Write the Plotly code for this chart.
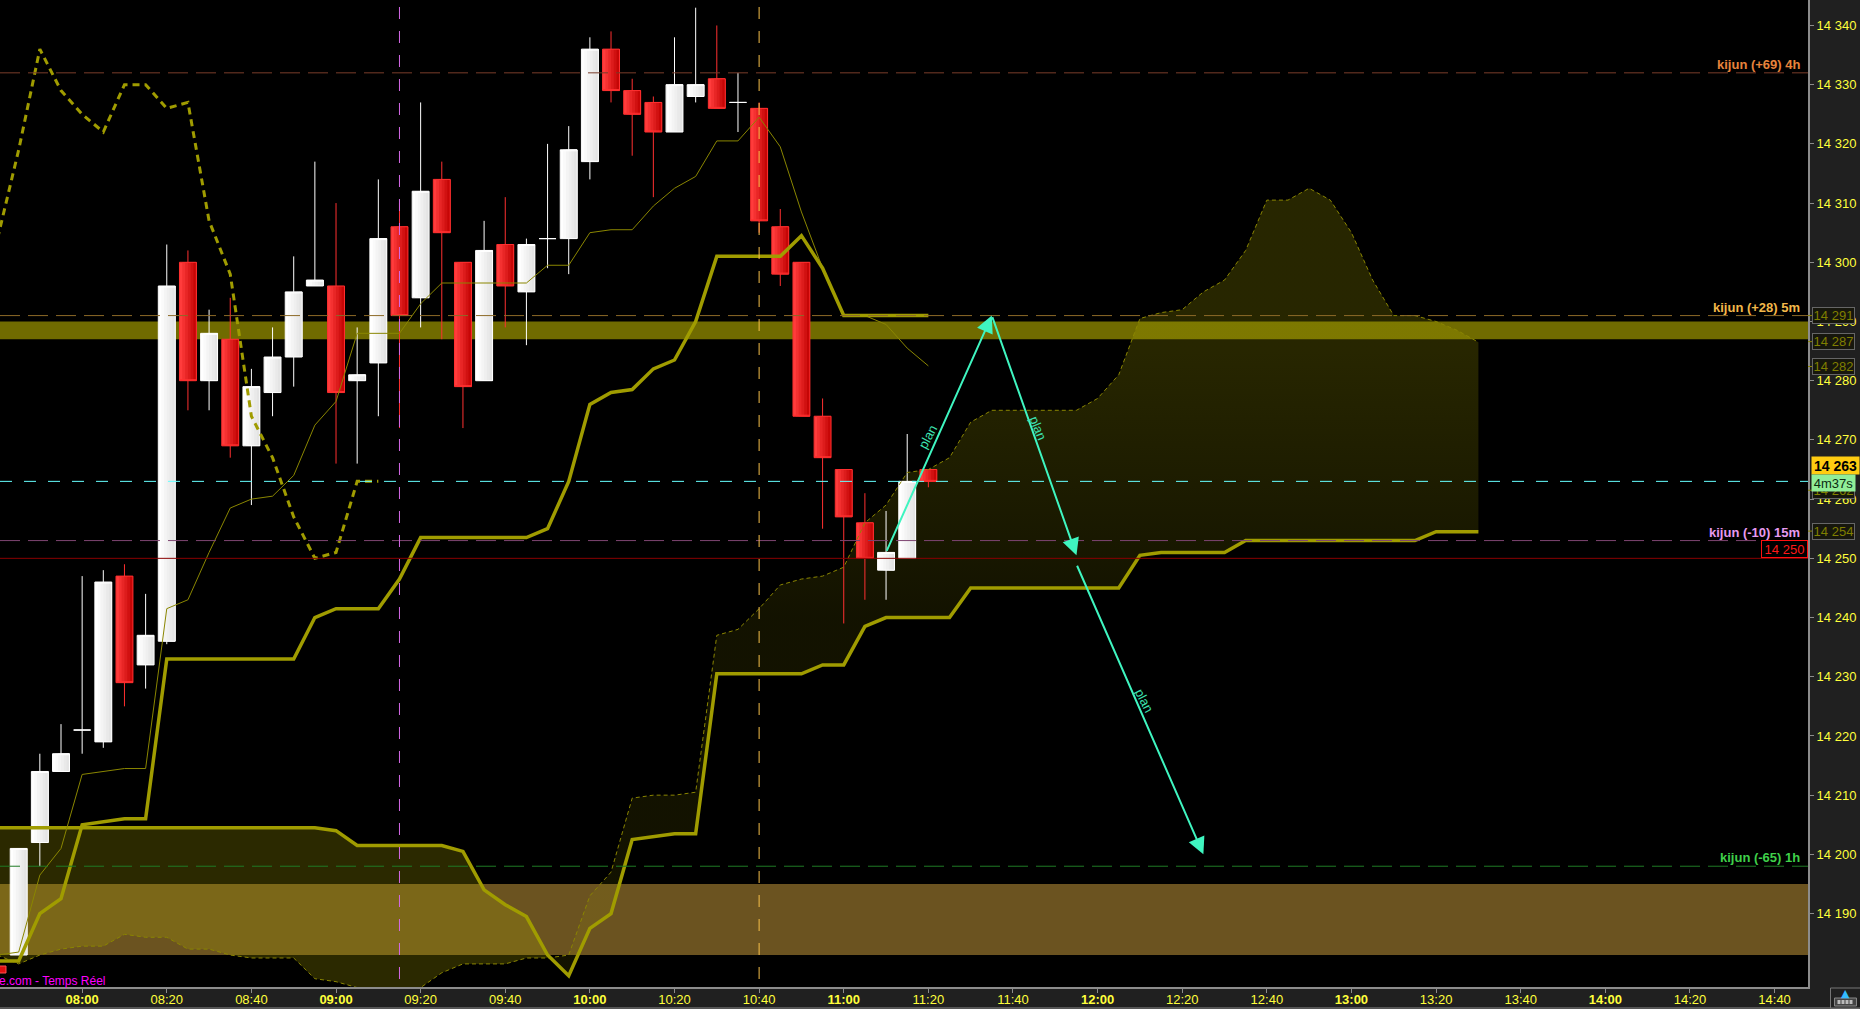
#Ichimoku candlestick chart with kijun levels and trade plan arrows
import pandas as pd
import plotly.graph_objects as go

# Configuration
OUTPUT_FILE = "out.html"
DAY = "2024-01-08"
WIDTH, HEIGHT = 1860, 1009
PLOT_W, PLOT_H = 1808.5, 987
FONT = "Liberation Sans"

# Candles
CANDLE_TIMES = ["07:45", "07:50", "07:55", "08:00", "08:05", "08:10", "08:15", "08:20", "08:25", "08:30", "08:35",
                "08:40", "08:45", "08:50", "08:55", "09:00", "09:05", "09:10", "09:15", "09:20", "09:25", "09:30",
                "09:35", "09:40", "09:45", "09:50", "09:55", "10:00", "10:05", "10:10", "10:15", "10:20", "10:25",
                "10:30", "10:35", "10:40", "10:45", "10:50", "10:55", "11:00", "11:05", "11:10", "11:15", "11:20"]
OPEN = [14183, 14202, 14214, 14221, 14219, 14247, 14232, 14236, 14300, 14280, 14287,
        14269, 14278, 14284, 14296, 14296, 14280, 14283, 14306, 14294, 14314, 14300,
        14280, 14303, 14295, 14304, 14304, 14317, 14336, 14329, 14327, 14322, 14328,
        14331, 14327, 14326, 14306, 14300, 14274, 14265, 14256, 14248, 14250, 14265]
HIGH = [14201, 14217, 14222, 14247, 14248, 14249, 14244, 14303, 14302, 14292, 14294,
        14282, 14289, 14301, 14317, 14310, 14289, 14314, 14310, 14327, 14317, 14300,
        14307, 14311, 14304, 14320, 14323, 14338, 14339, 14331, 14328, 14338, 14343,
        14340, 14332, 14327, 14309, 14300, 14277, 14265, 14261, 14258, 14271, 14265]
LOW = [14183, 14198, 14214, 14217, 14218, 14225, 14228, 14235.5, 14275, 14275, 14267,
       14259, 14274, 14279, 14296, 14266, 14266, 14274, 14272, 14289, 14287, 14272,
       14280, 14289, 14286, 14299, 14298, 14314, 14327, 14318, 14311, 14322, 14327,
       14326, 14322, 14305, 14296, 14274, 14255, 14239, 14243, 14243, 14250, 14262]
CLOSE = [14201, 14214, 14217, 14221, 14246, 14229, 14237, 14296, 14280, 14288, 14269,
         14279, 14284, 14295, 14297, 14278, 14281, 14304, 14291, 14312, 14305, 14279,
         14302, 14296, 14303, 14304, 14319, 14336, 14329, 14325, 14322, 14330, 14330,
         14326, 14327, 14307, 14298, 14274, 14267, 14257, 14250, 14251, 14263, 14263]

# Ichimoku lines, one value every 5 minutes from 07:40
KIJUN = [14182, 14182, 14190, 14192.5, 14205, 14205.5, 14206, 14206, 14233, 14233, 14233, 14233, 14233, 14233, 14233,
         14240, 14241.5, 14241.5, 14241.5, 14246.5, 14253.5, 14253.5, 14253.5, 14253.5, 14253.5, 14253.5, 14255, 14263,
         14276, 14278, 14278.5, 14282, 14283.5, 14290, 14301, 14301, 14301, 14301, 14304.5, 14299, 14291, 14291, 14291,
         14291, 14291]
TENKAN = [14183, 14183.5, 14196.5, 14201, 14213.5, 14214, 14214.5, 14214.5, 14241.5, 14243, 14251, 14258.5, 14260,
          14260.5, 14264, 14272.5, 14276.5, 14288, 14288, 14288, 14293, 14296.5, 14296.5, 14296.5, 14296.5, 14296.5,
          14299.5, 14299.5, 14305, 14305.5, 14305.5, 14309.5, 14312.5, 14314.5, 14320.5, 14320.5, 14324.5, 14319.5,
          14308.5, 14299, 14291, 14291, 14289.5, 14285.5, 14282.5]
CHIKOU = [14304, 14319, 14336, 14329, 14325, 14322, 14330, 14330, 14326, 14327, 14307, 14298, 14274, 14267, 14257,
          14250, 14251, 14263, 14263]
SSA = [14183, 14181.5, 14183, 14184, 14184.5, 14184.5, 14186.5, 14186, 14186, 14184, 14184, 14183, 14182.5, 14182.5,
       14182.5, 14179, 14178.5, 14177.5, 14176.5, 14176.5, 14177.5, 14180, 14181.5, 14181.5, 14181.5, 14182.5, 14182.5,
       14183, 14193, 14197, 14209.5, 14210, 14210, 14210.5, 14237, 14238, 14241.5, 14245.5, 14246.5, 14247, 14248.5,
       14256, 14259, 14264.5, 14265, 14267, 14273, 14275, 14275, 14275, 14275, 14275, 14277, 14281, 14290.5, 14291.5,
       14292, 14295, 14297, 14302, 14310.5, 14310.5, 14312.5, 14310.5, 14305, 14297, 14291, 14291, 14290, 14288.5,
       14286.5]
SSB = [14204.5, 14204.5, 14204.5, 14204.5, 14204.5, 14204.5, 14204.5, 14204.5, 14204.5, 14204.5, 14204.5, 14204.5,
       14204.5, 14204.5, 14204.5, 14204.5, 14204, 14201.5, 14201.5, 14201.5, 14201.5, 14201.5, 14200.5, 14194, 14191.5,
       14189.5, 14183, 14179.5, 14187.5, 14190, 14202.5, 14203, 14203.5, 14203.5, 14230.5, 14230.5, 14230.5, 14230.5,
       14230.5, 14232, 14232, 14238.5, 14240, 14240, 14240, 14240, 14245, 14245, 14245, 14245, 14245, 14245, 14245,
       14245, 14250.5, 14251, 14251, 14251, 14251, 14253, 14253, 14253, 14253, 14253, 14253, 14253, 14253, 14253,
       14254.5, 14254.5, 14254.5]
CLOUD_SPLIT = 26  # 09:50, where the two spans cross

# Levels
LEVEL_LABELS = ["kijun (+69) 4h", "kijun (+28) 5m", "kijun (-10) 15m", "kijun (-65) 1h"]
LEVEL_VALUES = [14332, 14291, 14253, 14198]
LEVEL_LINE_COLORS = ["#7a3d2a", "#8c6a28", "#7d4570", "#1f7a24"]
LEVEL_TEXT_COLORS = ["#e8843c", "#f2b84a", "#e79af0", "#3fd04a"]
BAND_RANGES = [(14287, 14290), (14183, 14195)]
BAND_COLORS = ["#706b00", "#6b5320"]
LAST_PRICE = 14263
STOP_LEVEL = 14250
VLINE_TIMES = ["09:15", "10:40"]
VLINE_COLORS = ["#d468e6", "#f7c04a"]

# Plan arrows: (start time, start price, end time, end price)
PLAN_START_TIMES = ["11:10", "11:35", "11:55"]
PLAN_START_PRICES = [14251, 14291, 14249]
PLAN_END_TIMES = ["11:35", "11:55", "12:25"]
PLAN_END_PRICES = [14291, 14250.5, 14200]
PLAN_TEXT_TIMES = ["11:20", "11:46", "12:11"]
PLAN_TEXT_PRICES = [14270.5, 14272, 14226]
PLAN_TEXT_ANGLES = [-62, 68, 63]

# Axes
PRICE_TICKS = list(range(14190, 14341, 10))
TIME_TICKS = ["07:40", "08:00", "08:20", "08:40", "09:00", "09:20", "09:40", "10:00", "10:20", "10:40", "11:00",
              "11:20", "11:40", "12:00", "12:20", "12:40", "13:00", "13:20", "13:40", "14:00", "14:20", "14:40"]
TAG_VALUES = [14291, 14286.6, 14282.4, 14254.6, 14261.5]
TAG_TEXTS = ["14 291", "14 287", "14 282", "14 254", "14 262"]


def t(hhmm):
    return f"{DAY} {hhmm}:00"


def fmt(price):
    s = str(int(price))
    return s[:2] + " " + s[2:]


def px(x):
    return x / PLOT_W


def py(y):
    return (PLOT_H - y) / PLOT_H


line_times = [d.strftime("%Y-%m-%d %H:%M:%S") for d in pd.date_range(t("07:40"), periods=len(SSA), freq="5min")]
candle_x = [t(c) for c in CANDLE_TIMES]

fig = go.Figure()

# Cloud, on the base axes so that it stays under the candles
cloud_cols = "170,165,0"
fig.add_trace(go.Scatter(x=line_times[:CLOUD_SPLIT + 1], y=SSB[:CLOUD_SPLIT + 1], mode="lines", line_width=0))
fig.add_trace(go.Scatter(x=line_times[:CLOUD_SPLIT + 1], y=SSA[:CLOUD_SPLIT + 1], mode="lines", line_width=0,
                         fill="tonexty", fillcolor=f"rgba({cloud_cols},0.25)"))
fig.add_trace(go.Scatter(x=line_times[CLOUD_SPLIT:], y=SSB[CLOUD_SPLIT:], mode="lines", line_width=0))
fig.add_trace(go.Scatter(x=line_times[CLOUD_SPLIT:], y=SSA[CLOUD_SPLIT:], mode="lines", line_width=0,
                         fill="tonexty",
                         fillgradient=dict(type="vertical", start=14240, stop=14285,
                                           colorscale=[[0, f"rgba({cloud_cols},0.11)"],
                                                       [1, f"rgba({cloud_cols},0.23)"]])))

# Candle bodies as vertical strips to get the horizontal shading,
# each strip runs to the right edge of the body so no seams show
BODY_MS = 238000
STRIPS = 6
white_idx = [i for i in range(len(OPEN)) if CLOSE[i] >= OPEN[i]]
red_idx = [i for i in range(len(OPEN)) if CLOSE[i] < OPEN[i]]
for idx, start, stop in ((white_idx, (255, 255, 255), (228, 228, 228)), (red_idx, (255, 60, 60), (198, 6, 6))):
    for s in range(STRIPS):
        f = s / (STRIPS - 1)
        col = [round(a + (b - a) * f) for a, b in zip(start, stop)]
        fig.add_trace(go.Bar(
            x=[candle_x[i] for i in idx],
            y=[abs(CLOSE[i] - OPEN[i]) for i in idx],
            base=[min(OPEN[i], CLOSE[i]) for i in idx],
            width=BODY_MS * (1 - s / STRIPS),
            offset=-BODY_MS / 2 + s * BODY_MS / STRIPS,
            marker=dict(color=f"rgb({col[0]},{col[1]},{col[2]})", line_width=0),
            xaxis="x2", yaxis="y2"))

# Wicks and outlines
fig.add_trace(go.Candlestick(
    x=candle_x, open=OPEN, high=HIGH, low=LOW, close=CLOSE, whiskerwidth=0,
    increasing=dict(line=dict(color="#ffffff", width=1), fillcolor="rgba(0,0,0,0)"),
    decreasing=dict(line=dict(color="#ff3030", width=1), fillcolor="rgba(0,0,0,0)"),
    xaxis="x2", yaxis="y2"))

# Ichimoku lines
OLIVE = "#a09c00"
n_tk = len(KIJUN)
fig.add_trace(go.Scatter(x=line_times, y=SSA, mode="lines", xaxis="x2", yaxis="y2",
                         line=dict(color="#8a8500", width=1, dash="4px,3px")))
fig.add_trace(go.Scatter(x=line_times, y=SSB, mode="lines", xaxis="x2", yaxis="y2",
                         line=dict(color=OLIVE, width=3.5)))
fig.add_trace(go.Scatter(x=line_times[:n_tk], y=TENKAN, mode="lines", xaxis="x2", yaxis="y2",
                         line=dict(color="#8a8600", width=1)))
fig.add_trace(go.Scatter(x=line_times[:n_tk], y=KIJUN, mode="lines", xaxis="x2", yaxis="y2",
                         line=dict(color=OLIVE, width=3.5)))
fig.add_trace(go.Scatter(x=line_times[:len(CHIKOU)], y=CHIKOU, mode="lines", xaxis="x2", yaxis="y2",
                         line=dict(color=OLIVE, width=3, dash="7px,5px")))

# Bands and level lines
for (lo, hi), col in zip(BAND_RANGES, BAND_COLORS):
    fig.add_shape(type="rect", xref="paper", yref="y", x0=0, x1=1, y0=lo, y1=hi, fillcolor=col, line_width=0,
                  layer="below")
for val, col in zip(LEVEL_VALUES, LEVEL_LINE_COLORS):
    fig.add_shape(type="line", xref="paper", yref="y", x0=0, x1=1, y0=val, y1=val,
                  line=dict(color=col, width=1, dash="20px,8px"))
fig.add_shape(type="line", xref="paper", yref="y", x0=0, x1=1, y0=LAST_PRICE, y1=LAST_PRICE,
              line=dict(color="#66ffff", width=1, dash="12px,12px"))
fig.add_shape(type="line", xref="paper", yref="y", x0=0, x1=1, y0=STOP_LEVEL, y1=STOP_LEVEL,
              line=dict(color="#8a0000", width=1))
for tm, col in zip(VLINE_TIMES, VLINE_COLORS):
    fig.add_shape(type="line", xref="x", yref="paper", x0=t(tm), x1=t(tm), y0=py(979), y1=py(7),
                  line=dict(color=col, width=1, dash="12px,12px"))

# Level labels
for label, val, col in zip(LEVEL_LABELS, LEVEL_VALUES, LEVEL_TEXT_COLORS):
    fig.add_annotation(text=f"<b>{label}</b>", xref="paper", yref="y", x=px(1802), y=val, xanchor="right",
                       yanchor="bottom", yshift=-1, showarrow=False,
                       font=dict(family=FONT, size=13, color=col))

# Plan arrows and their labels
PLAN_COLOR = "#3ff5c0"
for t0, p0, t1, p1 in zip(PLAN_START_TIMES, PLAN_START_PRICES, PLAN_END_TIMES, PLAN_END_PRICES):
    fig.add_annotation(x=t(t1), y=p1, ax=t(t0), ay=p0, xref="x", yref="y", axref="x", ayref="y", text="",
                       showarrow=True, arrowhead=2, arrowsize=1.7, arrowwidth=2, arrowcolor=PLAN_COLOR)
for tm, price, ang in zip(PLAN_TEXT_TIMES, PLAN_TEXT_PRICES, PLAN_TEXT_ANGLES):
    fig.add_annotation(x=t(tm), y=price, xref="x", yref="y", text="plan", textangle=ang, showarrow=False,
                       font=dict(family=FONT, size=13, color="#3de0b0"))

# Price tags on the right
tag_font = dict(family=FONT, size=13, color="#807f00")
for val, txt in zip(TAG_VALUES, TAG_TEXTS):
    fig.add_shape(type="line", xref="paper", yref="y", x0=1, x1=px(1813), y0=val, y1=val,
                  line=dict(color="#8a8500", width=1))
    fig.add_annotation(text=txt, xref="paper", yref="y", x=px(1834.5), y=val, xanchor="center", showarrow=False,
                       width=41, height=15, bgcolor="#17170d", bordercolor="#666666", borderwidth=1, borderpad=0,
                       font=tag_font)
fig.add_annotation(text="<b>" + fmt(LAST_PRICE) + "</b>", xref="paper", yref="y", x=px(1836.5), y=14265.7,
                   xanchor="center", showarrow=False, width=47, height=17, bgcolor="#ffcc11", borderpad=0,
                   font=dict(family=FONT, size=14, color="#000000"))
fig.add_annotation(text="4m37s", xref="paper", yref="y", x=px(1834.5), y=14262.8, xanchor="center", showarrow=False,
                   width=43, height=16, bgcolor="#90ee98", borderpad=0, font=dict(family=FONT, size=13, color="#0a2a10"))
fig.add_annotation(text=fmt(STOP_LEVEL), xref="paper", yref="y", x=px(1784.5), y=14251.5, xanchor="center",
                   showarrow=False, width=45, height=16, bgcolor="#000000", bordercolor="#ff1010", borderwidth=1,
                   borderpad=0, font=dict(family=FONT, size=13, color="#ff1818"))

# Footer items
fig.add_annotation(text="e.com - Temps Réel", xref="paper", yref="paper", x=px(0), y=py(981), xanchor="left",
                   yanchor="middle", showarrow=False, xshift=-3, font=dict(family=FONT, size=12, color="#ff00ff"))
fig.add_shape(type="rect", xref="paper", yref="paper", x0=px(-1), x1=px(6), y0=py(973), y1=py(966),
              fillcolor="#e01010", line=dict(color="#ff5050", width=1))
fig.add_shape(type="line", xref="paper", yref="paper", x0=0, x1=px(WIDTH), y0=py(1008), y1=py(1008),
              line=dict(color="#8c8c8c", width=1))
fig.add_shape(type="rect", xref="paper", yref="paper", x0=px(1831), x1=px(1861), y0=py(1008), y1=py(988),
              line=dict(color="#777777", width=1), fillcolor="#202020")
fig.add_shape(type="rect", xref="paper", yref="paper", x0=px(1835), x1=px(1857), y0=py(1006), y1=py(998),
              line=dict(color="#888888", width=1), fillcolor="#444444")
for key_x in (1838, 1842, 1846, 1850):
    fig.add_shape(type="rect", xref="paper", yref="paper", x0=px(key_x), x1=px(key_x + 3), y0=py(1004), y1=py(1000),
                  line_width=0, fillcolor="#bbbbbb")
fig.add_annotation(text="▲", xref="paper", yref="paper", x=px(1846.5), y=py(993), xanchor="center", yanchor="middle",
                   showarrow=False, font=dict(family="DejaVu Sans", size=11, color="#33bbff"))

tick_font = dict(family=FONT, size=13, color="#ffff3c")
fig.update_layout(
    width=WIDTH, height=HEIGHT,
    margin=dict(l=0, r=WIDTH - PLOT_W, t=0, b=HEIGHT - PLOT_H, autoexpand=False),
    paper_bgcolor="#202020", plot_bgcolor="#000000",
    showlegend=False, hovermode=False, barmode="overlay", boxgap=0.2, boxgroupgap=0,
    xaxis=dict(type="date", range=[f"{DAY} 07:40:35", f"{DAY} 14:47:54"], showgrid=False, zeroline=False,
               rangeslider=dict(visible=False),
               tickmode="array", tickvals=[t(x) for x in TIME_TICKS],
               ticktext=[f"<b>{x}</b>" if x.endswith(":00") else x for x in TIME_TICKS],
               ticks="outside", ticklen=4, tickcolor="#8c8c8c", tickfont=tick_font, ticklabelstandoff=-5,
               showline=True, linecolor="#8c8c8c", linewidth=2),
    yaxis=dict(range=[14177.6, 14344.3], side="right", showgrid=False, zeroline=False,
               tickmode="array", tickvals=PRICE_TICKS, ticktext=[fmt(v) for v in PRICE_TICKS],
               ticks="outside", ticklen=4, tickcolor="#8c8c8c", tickfont=tick_font,
               showline=True, linecolor="#8c8c8c", linewidth=2),
    xaxis2=dict(type="date", overlaying="x", matches="x", visible=False, rangeslider=dict(visible=False)),
    yaxis2=dict(overlaying="y", matches="y", visible=False),
)

fig.write_html(OUTPUT_FILE, config={"displayModeBar": False},
               post_script="document.body.style.margin='0';document.body.style.overflow='hidden';")
